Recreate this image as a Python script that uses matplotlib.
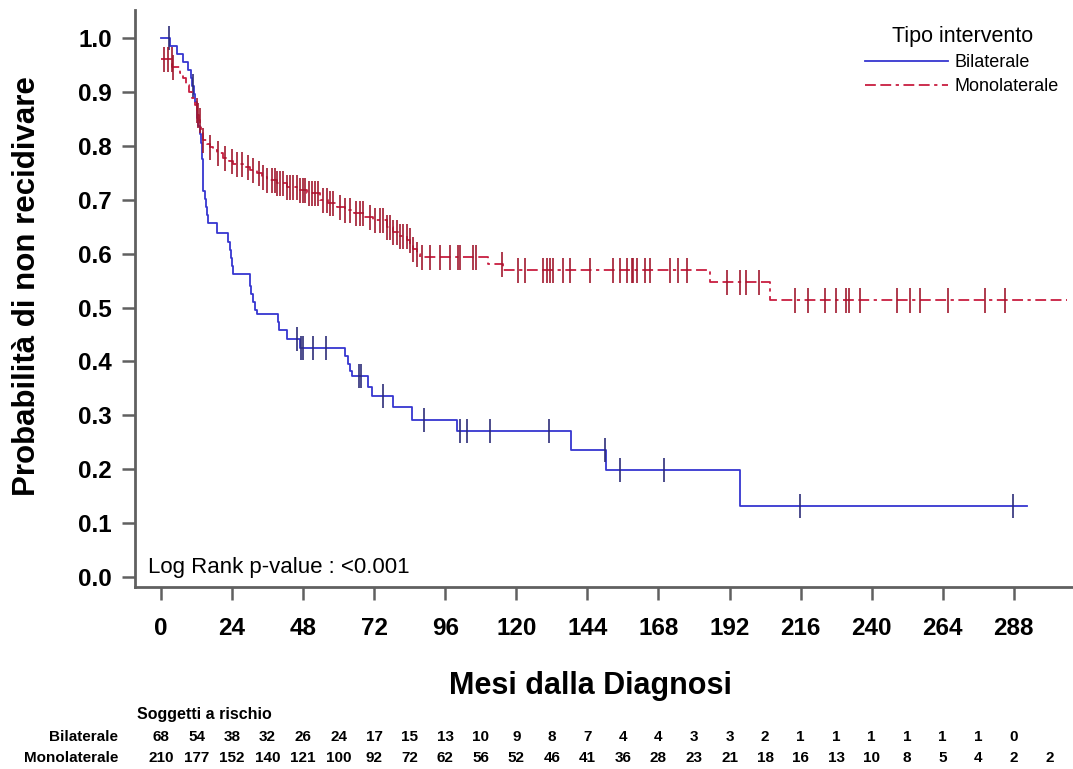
"""
Kaplan-Meier curves of recurrence-free probability by type of surgery,
with a number-at-risk table under the x axis.
"""
import numpy as np
import matplotlib.pyplot as plt
from matplotlib.lines import Line2D
from matplotlib.transforms import blended_transform_factory

plt.rcParams['font.family'] = ['Liberation Sans', 'DejaVu Sans']

# Bilaterale: times of the drops (months) and survival after each drop
bil_times = [0, 3.0, 5.3, 7.5, 9.2, 10.0, 10.6, 11.1, 11.6, 12.0,
             12.3, 12.6, 13.0, 13.5, 13.8, 13.9, 14.0, 14.1, 14.2, 14.3,
             14.8, 15.3, 15.6, 16.0, 18.8, 22.7, 23.2, 23.6, 24.0, 24.4,
             30.0, 30.5, 31.2, 31.8, 32.3, 39.6, 39.7, 42.6, 46.9, 62.1,
             63.2, 63.8, 64.4, 70.0, 71.1, 78.4, 84.6, 99.8, 138.6, 150.2,
             195.7]
bil_surv = [1.0, 0.985, 0.971, 0.956, 0.941, 0.926, 0.911, 0.896, 0.881, 0.866,
            0.851, 0.836, 0.821, 0.806, 0.791, 0.776, 0.761, 0.746, 0.731, 0.716,
            0.701, 0.686, 0.671, 0.656, 0.638, 0.622, 0.607, 0.592, 0.577, 0.562,
            0.540, 0.525, 0.510, 0.495, 0.488, 0.473, 0.458, 0.441, 0.424, 0.410,
            0.395, 0.383, 0.372, 0.352, 0.335, 0.316, 0.291, 0.270, 0.236, 0.199,
            0.132]
bil_end = 292.3
bil_cens = [2.8, 10.7, 45.8, 47.2, 48.0, 51.4, 55.7, 66.8, 67.4, 74.8, 88.8,
            100.9, 103.2, 111.0, 131.1, 149.9, 155.0, 169.9, 215.7, 287.8]

# Monolaterale
mono_times = [0, 3.8, 6.5, 7.5, 8.5, 9.5, 10.5, 11.5, 12.0, 12.4,
              12.8, 13.2, 13.6, 14.3, 15.4, 16.5, 17.6, 18.8, 21.0, 23.0,
              24.4, 27.8, 30.0, 32.3, 34.0, 35.7, 39.0, 42.4, 46.0, 49.2,
              53.7, 56.5, 59.3, 62.0, 65.0, 68.5, 71.7, 76.2, 78.5, 80.5,
              83.0, 84.2, 85.2, 86.3, 87.4, 110.5, 115.6, 185.4, 205.6]
mono_surv = [0.962, 0.947, 0.935, 0.925, 0.912, 0.900, 0.889, 0.876, 0.866, 0.857,
             0.848, 0.837, 0.826, 0.811, 0.804, 0.798, 0.792, 0.786, 0.777, 0.771,
             0.767, 0.761, 0.755, 0.749, 0.743, 0.737, 0.731, 0.724, 0.718, 0.712,
             0.700, 0.693, 0.687, 0.681, 0.675, 0.668, 0.662, 0.650, 0.641, 0.633,
             0.625, 0.617, 0.608, 0.600, 0.594, 0.580, 0.570, 0.548, 0.514]
mono_end = 306.0
mono_cens = [1.0, 2.5, 3.6, 4.2, 12.0, 12.4, 13.0, 14.3, 16.6, 19.3, 21.6, 23.9,
             25.6, 27.2, 29.5, 31.0, 33.0, 34.5, 35.7, 37.4, 38.5, 39.1, 40.2,
             41.3, 42.4, 43.6, 44.7, 45.8, 46.9, 48.1, 48.6, 49.8, 50.9, 52.0,
             53.1, 54.8, 55.9, 57.0, 58.2, 60.4, 62.0, 63.8, 66.0, 67.2, 68.3,
             70.6, 72.3, 74.0, 75.1, 76.2, 77.3, 78.5, 79.6, 80.7, 81.8, 82.9,
             84.1, 85.2, 86.3, 88.0, 90.8, 94.2, 97.6, 100.4, 100.9, 105.4,
             106.3, 115.0, 120.6, 122.9, 129.1, 130.2, 131.3, 132.5, 135.8,
             138.1, 144.8, 152.7, 155.0, 157.2, 158.9, 159.5, 160.6, 163.4,
             165.1, 171.8, 174.6, 177.7, 191.0, 195.7, 197.7, 202.0, 214.0,
             218.5, 224.2, 228.1, 231.5, 232.4, 236.0, 248.4, 252.9, 256.2,
             265.8, 278.2, 284.9]

# number at risk, every 12 months
risk_bil = [68, 54, 38, 32, 26, 24, 17, 15, 13, 10, 9, 8, 7, 4, 4, 3, 3, 2,
            1, 1, 1, 1, 1, 1, 0]
risk_mono = [210, 177, 152, 140, 121, 100, 92, 72, 62, 56, 52, 46, 41, 36, 28,
             23, 21, 18, 16, 13, 10, 8, 5, 4, 2, 2]

blue = '#3636d0'
blue_mark = '#2c2c78'
red = '#c81e40'
red_mark = '#a0182e'
dashdot = (0, (6, 2.5, 6, 2.5, 1.8, 2.5))


def surv_at(times, surv, t):
    idx = np.searchsorted(times, t, side='right') - 1
    return np.asarray(surv)[idx]


W, H = 1073, 769
fig = plt.figure(figsize=(W / 100, H / 100), dpi=100)
ax = fig.add_axes([135 / W, 1 - 587 / H, 1 - 135 / W, (587 - 10) / H])

# curves
for times, surv, end, cens, col, mcol, ls, ms in [
        (bil_times, bil_surv, bil_end, bil_cens, blue, blue_mark, '-', 17),
        (mono_times, mono_surv, mono_end, mono_cens, red, red_mark, dashdot, 18)]:
    t = list(times) + [end]
    s = list(surv) + [surv[-1]]
    ax.step(t, s, where='post', color=col, lw=1.3, linestyle=ls)
    ax.plot(cens, surv_at(times, surv, cens), linestyle='none', marker='|',
            markersize=ms, markeredgewidth=1.4, color=mcol, alpha=0.85)

ax.set_xlim(-8.8, 308)
ax.set_ylim(-0.0186, 1.052)
ax.set_xticks(np.arange(0, 289, 24))
ax.set_yticks(np.arange(0, 1.01, 0.1))
ax.set_yticklabels([f'{v:.1f}' for v in np.arange(0, 1.01, 0.1)])
for sp in ['top', 'right']:
    ax.spines[sp].set_visible(False)
for sp in ['left', 'bottom']:
    ax.spines[sp].set_color('#606060')
    ax.spines[sp].set_linewidth(2)
ax.tick_params(axis='both', direction='out', length=9.5, width=1.8,
               color='#606060', labelsize=17.5)
ax.tick_params(axis='x', pad=12)
ax.tick_params(axis='y', pad=7)
for lab in ax.get_xticklabels() + ax.get_yticklabels():
    lab.set_fontweight('bold')

fig.text(148 / W, 1 - 567 / H, 'Log Rank p-value : <0.001', fontsize=16,
         va='center')

fig.text(27 / W, 1 - 286 / H, 'Probabilità di non recidivare', rotation=90,
         fontsize=22.5, fontweight='bold', ha='center', va='center')
fig.text(590 / W, 1 - 686 / H, 'Mesi dalla Diagnosi', fontsize=22,
         fontweight='bold', ha='center', va='center')

# legend
handles = [Line2D([], [], color=blue, lw=1.3),
           Line2D([], [], color=red, lw=1.3, linestyle=dashdot)]
fig.legend(handles, ['Bilaterale', 'Monolaterale'], title='Tipo intervento',
           loc='upper right', bbox_to_anchor=(1068 / W, 1 - 17 / H),
           frameon=False, fontsize=13, title_fontsize=15.5, handlelength=4.6,
           handletextpad=0.35, labelspacing=0.4, borderpad=0.0)

# risk table
trans = blended_transform_factory(ax.transData, fig.transFigure)
fig.text(137 / W, 1 - 714 / H, 'Soggetti a rischio', fontsize=11.5,
         fontweight='bold', va='center')
fig.text(118 / W, 1 - 737 / H, 'Bilaterale', fontsize=11,
         fontweight='bold', va='center', ha='right')
fig.text(118 / W, 1 - 758 / H, 'Monolaterale', fontsize=11,
         fontweight='bold', va='center', ha='right')
for i, n in enumerate(risk_bil):
    fig.text(i * 12, 1 - 737 / H, str(n), transform=trans, fontsize=11,
             fontweight='bold', ha='center', va='center')
for i, n in enumerate(risk_mono):
    fig.text(i * 12, 1 - 758 / H, str(n), transform=trans, fontsize=11,
             fontweight='bold', ha='center', va='center')

fig.savefig('out.png', dpi=100, facecolor='white')
